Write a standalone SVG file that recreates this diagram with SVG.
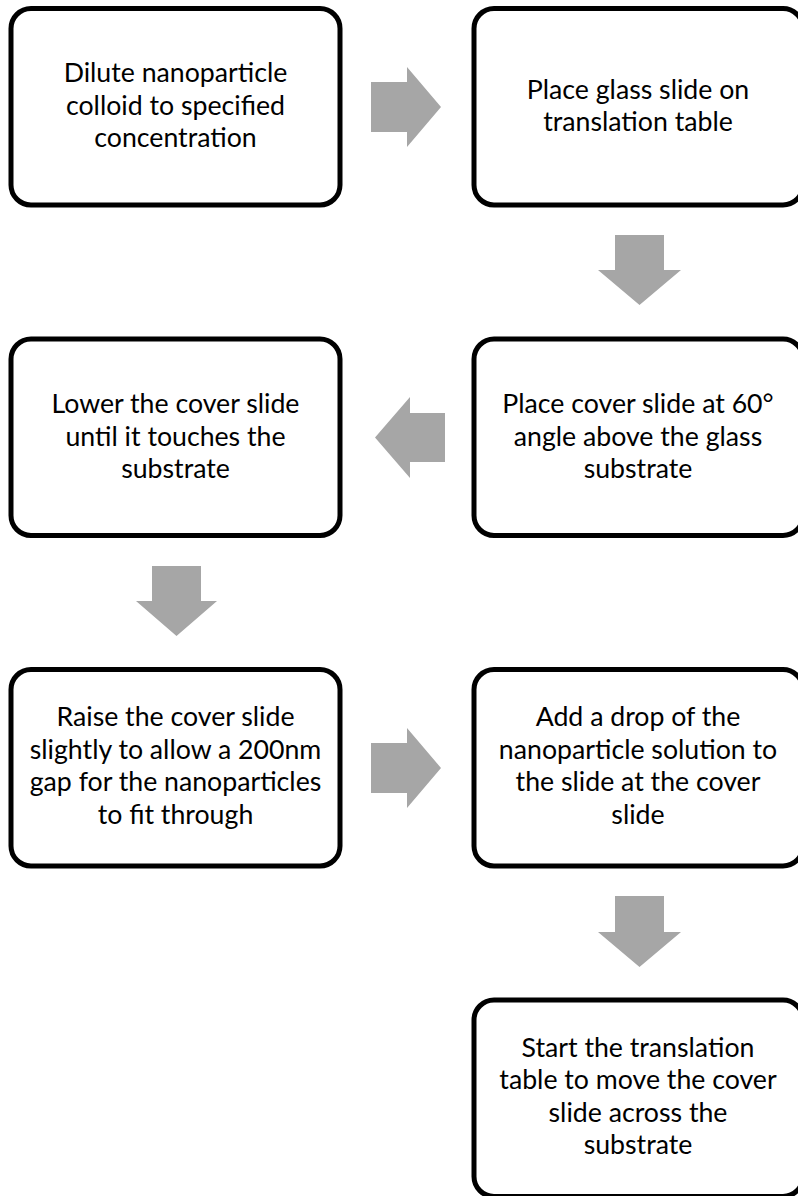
<svg xmlns="http://www.w3.org/2000/svg" width="798" height="1196" viewBox="0 0 798 1196">
<style>
.box{fill:#fff;stroke:#000;stroke-width:5}
.arr{fill:#a6a6a6}
text{font-family:Lato,"Liberation Sans",sans-serif;font-size:26.7px;fill:#000;text-anchor:middle}
</style>
<rect x="0" y="0" width="798" height="1196" fill="#fff"/>
<g id="connectors">
<polygon class="arr" points="371,82 407,82 407,67 441,107 407,147 407,132 371,132"/>
<polygon class="arr" points="615,235 664,235 664,270 681,270 639.5,305 598,270 615,270"/>
<polygon class="arr" points="445,413 410,413 410,397 375,437.5 410,478 410,462 445,462"/>
<polygon class="arr" points="152,566 201,566 201,601 217,601 176.5,636 136,601 152,601"/>
<polygon class="arr" points="371,743 407,743 407,728 441,768 407,808 407,793 371,793"/>
<polygon class="arr" points="615,896 664,896 664,932 681,932 639.5,967 598,932 615,932"/>
</g>
<g id="n1"><rect class="box" x="11" y="8.5" width="329" height="196.5" rx="20"/>
<text x="175.5" y="82">Dilute nanoparticle</text><text x="175.5" y="114.5">colloid to specified</text><text x="175.5" y="147">concentration</text></g>
<g id="n2"><rect class="box" x="474" y="8.5" width="329" height="196.5" rx="20"/>
<text x="638" y="98.5">Place glass slide on</text><text x="638" y="131">translation table</text></g>
<g id="n3"><rect class="box" x="474" y="339" width="329" height="196.5" rx="20"/>
<text x="638" y="413">Place cover slide at 60°</text><text x="638" y="445.5">angle above the glass</text><text x="638" y="478">substrate</text></g>
<g id="n4"><rect class="box" x="11" y="339" width="329" height="196.5" rx="20"/>
<text x="175.5" y="413">Lower the cover slide</text><text x="175.5" y="445.5">until it touches the</text><text x="175.5" y="478">substrate</text></g>
<g id="n5"><rect class="box" x="11" y="669.5" width="329" height="196.5" rx="20"/>
<text x="175.5" y="726">Raise the cover slide</text><text x="175.5" y="758.5">slightly to allow a 200nm</text><text x="175.5" y="791">gap for the nanoparticles</text><text x="175.5" y="823.5">to fit through</text></g>
<g id="n6"><rect class="box" x="474" y="669.5" width="329" height="196.5" rx="20"/>
<text x="638" y="726">Add a drop of the</text><text x="638" y="758.5">nanoparticle solution to</text><text x="638" y="791">the slide at the cover</text><text x="638" y="823.5">slide</text></g>
<g id="n7"><rect class="box" x="474" y="1000" width="329" height="196.5" rx="20"/>
<text x="638" y="1056.5">Start the translation</text><text x="638" y="1089">table to move the cover</text><text x="638" y="1121.5">slide across the</text><text x="638" y="1154">substrate</text></g>
</svg>
